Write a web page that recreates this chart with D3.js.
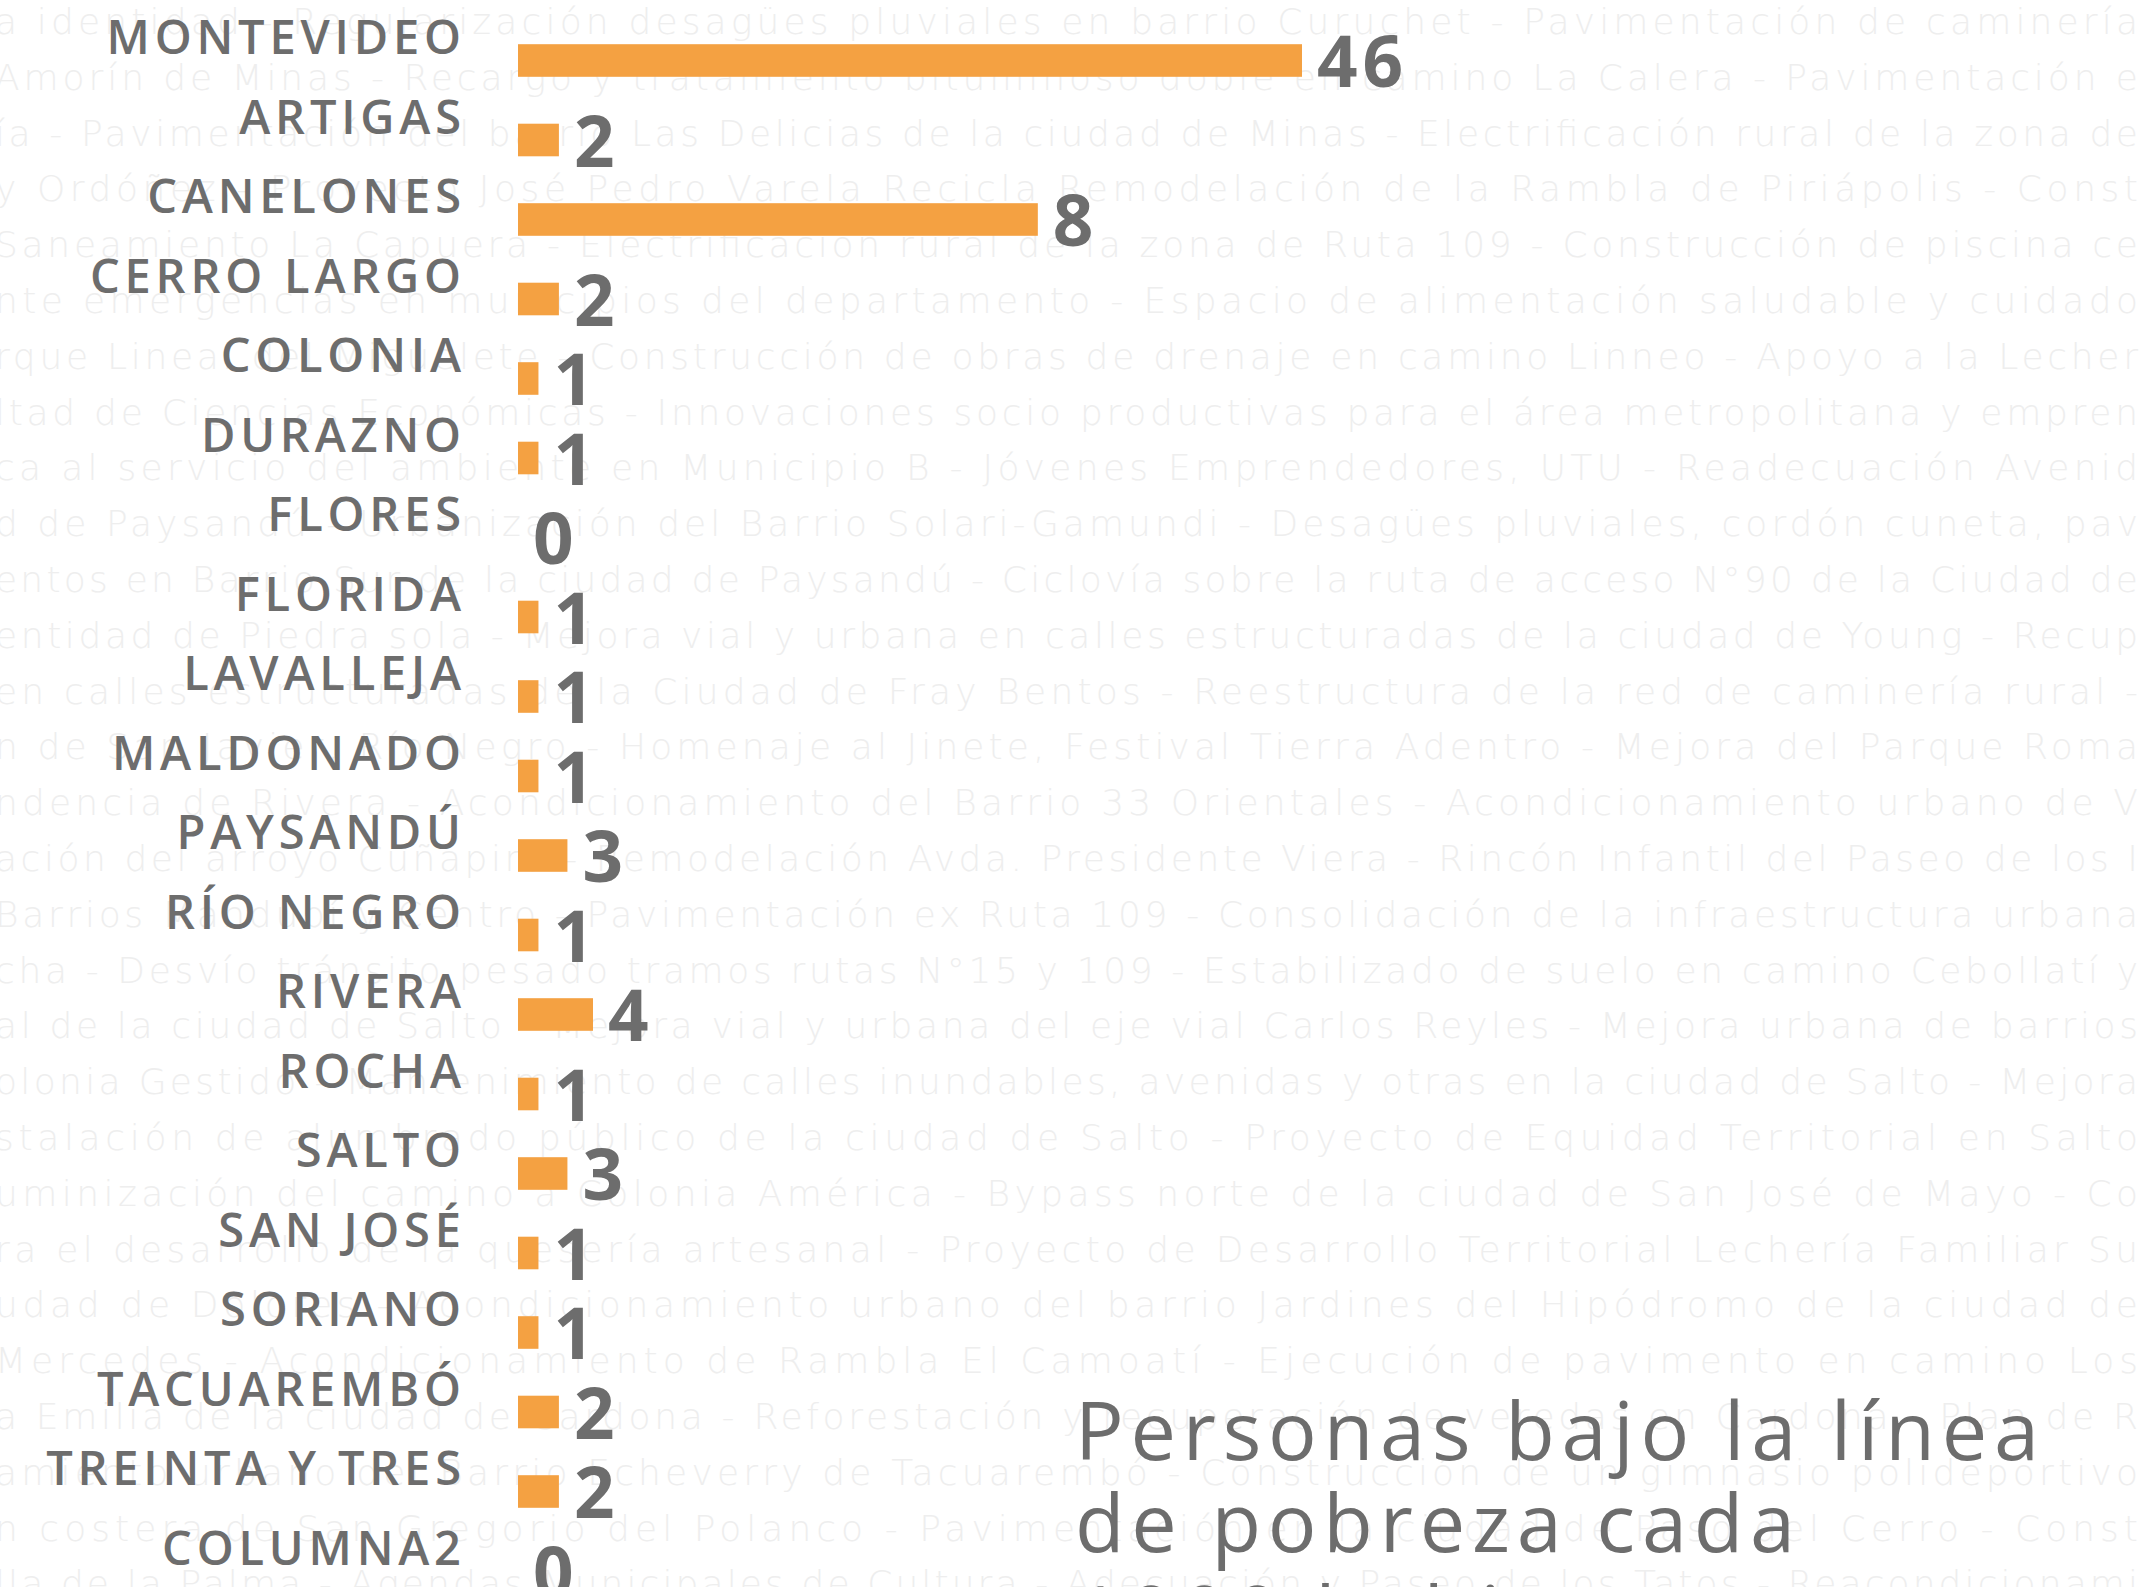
<!DOCTYPE html>
<html>
<head>
<meta charset="utf-8">
<script src="https://cdn.jsdelivr.net/npm/d3@7"></script>
<style>
  html, body { margin: 0; padding: 0; background: #ffffff; }
  svg { display: block; }
</style>
</head>
<body>
<div id="chart"></div>
<script>
// ---------------- DATA ----------------
const categories = ["MONTEVIDEO","ARTIGAS","CANELONES","CERRO LARGO","COLONIA","DURAZNO","FLORES","FLORIDA",
  "LAVALLEJA","MALDONADO","PAYSANDÚ","RÍO NEGRO","RIVERA","ROCHA","SALTO","SAN JOSÉ","SORIANO",
  "TACUAREMBÓ","TREINTA Y TRES","COLUMNA2"];
// labelled values
const values = [46,2,8,2,1,1,0,1,1,1,3,1,4,1,3,1,1,2,2,0];
// bar lengths as drawn in the infographic (in label units)
const barLengths = [46,2.4,30.5,2.4,1.2,1.2,0,1.2,1.2,1.2,2.9,1.2,4.4,1.2,2.9,1.2,1.2,2.4,2.4,0];
const xDomainMax = 46;

const titleLines = ["Personas bajo la línea", "de pobreza cada", "1000 habitantes"];

// faint background text (visible part of each justified line)
const backgroundLines = [
  "a identidad - Regularización desagües pluviales en barrio Curuchet - Pavimentación de caminería",
  "Amorín de Minas - Recargo y tratamiento bituminoso doble en camino La Calera - Pavimentación e",
  "ía - Pavimentación del barrio Las Delicias de la ciudad de Minas - Electrificación rural de la zona de",
  "y Ordóñez - Proyecto José Pedro Varela Recicla Remodelación de la Rambla de Piriápolis - Const",
  "Saneamiento La Capuera - Electrificación rural de la zona de Ruta 109 - Construcción de piscina ce",
  "nte emergencias en municipios del departamento - Espacio de alimentación saludable y cuidado",
  "rque Lineal del Miguelete - Construcción de obras de drenaje en camino Linneo - Apoyo a la Lecher",
  "ltad de Ciencias Económicas - Innovaciones socio productivas para el área metropolitana y empren",
  "ca al servicio del ambiente en Municipio B - Jóvenes Emprendedores, UTU - Readecuación Avenid",
  "d de Paysandú - Urbanización del Barrio Solari-Gamundi - Desagües pluviales, cordón cuneta, pav",
  "entos en Barrio Sur de la ciudad de Paysandú - Ciclovía sobre la ruta de acceso N°90 de la Ciudad de",
  "entidad de Piedra sola - Mejora vial y urbana en calles estructuradas de la ciudad de Young - Recup",
  "en calles estructuradas de la Ciudad de Fray Bentos - Reestructura de la red de caminería rural -",
  "n de San Javier, Río Negro - Homenaje al Jinete, Festival Tierra Adentro - Mejora del Parque Roma",
  "ndencia de Rivera - Acondicionamiento del Barrio 33 Orientales - Acondicionamiento urbano de V",
  "ación del arroyo Cuñapirú - Remodelación Avda. Presidente Viera - Rincón Infantil del Paseo de los I",
  "Barrios Mandubí y Centro - Pavimentación ex Ruta 109 - Consolidación de la infraestructura urbana",
  "cha - Desvío tránsito pesado tramos rutas N°15 y 109 - Estabilizado de suelo en camino Cebollatí y",
  "al de la ciudad de Salto - Mejora vial y urbana del eje vial Carlos Reyles - Mejora urbana de barrios",
  "olonia Gestido - Mantenimiento de calles inundables, avenidas y otras en la ciudad de Salto - Mejora",
  "stalación de alumbrado público de la ciudad de Salto - Proyecto de Equidad Territorial en Salto",
  "uminización del camino a Colonia América - Bypass norte de la ciudad de San José de Mayo - Co",
  "ra el desarrollo de la quesería artesanal - Proyecto de Desarrollo Territorial Lechería Familiar Su",
  "udad de Dolores - Acondicionamiento urbano del barrio Jardines del Hipódromo de la ciudad de",
  "Mercedes - Acondicionamiento de Rambla El Camoatí - Ejecución de pavimento en camino Los",
  "a Emilia de la ciudad de Cardona - Reforestación y recuperación de veredas en Cardona - Plan de R",
  "amiento urbano del Barrio Echeverry de Tacuarembó - Construcción de un gimnasio polideportivo",
  "n costera de San Gregorio del Polanco - Pavimentación en la ciudad de Paso del Cerro - Const",
  "lla de la Palma - Agendas Municipales de Cultura - Adecuación y Paseo de los Tatos - Reacondicionami"
];

// ---------------- LAYOUT ----------------
const W = 2153, H = 1587;
const GREY = "#6d6d6d";
const ORANGE = "#f4a142";

const svg = d3.select("#chart").append("svg")
  .attr("width", W).attr("height", H)
  .attr("viewBox", `0 0 ${W} ${H}`);

svg.append("rect").attr("width", W).attr("height", H).attr("fill", "#ffffff");

// background watermark text, each line spread (justified) across the page
const bgY = d3.scaleLinear().domain([0, 1]).range([34, 89.8]);
svg.append("g").selectAll("text")
  .data(backgroundLines)
  .join("text")
  .attr("x", -5)
  .attr("y", (d, i) => bgY(i))
  .attr("font-family", "'DejaVu Sans', sans-serif")
  .attr("font-weight", 200)
  .attr("font-size", 36)
  .attr("textLength", W - 10)
  .attr("lengthAdjust", "spacing")
  .attr("fill", "#eeeeee")
  .text(d => d);

// scales
const x = d3.scaleLinear().domain([0, xDomainMax]).range([518, 1302]);
const y = d3.scaleBand().domain(categories)
  .range([20.75, 1610.75]).paddingInner(0.59).paddingOuter(0.295);

const rows = categories.map((c, i) => ({ cat: c, value: values[i], len: barLengths[i] }));

// bars
svg.append("g").selectAll("rect")
  .data(rows.filter(d => d.len > 0))
  .join("rect")
  .attr("x", x(0))
  .attr("y", d => y(d.cat))
  .attr("width", d => x(d.len) - x(0))
  .attr("height", y.bandwidth())
  .attr("fill", ORANGE);

// category labels
const labelLS = 4.8;
svg.append("g").selectAll("text")
  .data(rows)
  .join("text")
  .attr("x", 461 + labelLS)
  .attr("y", d => y(d.cat) + 10)
  .attr("text-anchor", "end")
  .attr("font-family", "'Open Sans', sans-serif")
  .attr("font-weight", 600)
  .attr("font-size", 47)
  .attr("letter-spacing", labelLS)
  .attr("fill", GREY)
  .text(d => d.cat);

// value labels
svg.append("g").selectAll("text")
  .data(rows)
  .join("text")
  .attr("x", d => x(d.len) + 15)
  .attr("y", d => y(d.cat) + 43)
  .attr("font-family", "'Open Sans', sans-serif")
  .attr("font-weight", 700)
  .attr("font-size", 71)
  .attr("letter-spacing", 5)
  .attr("fill", GREY)
  .text(d => d.value);

// title block (bottom right)
svg.append("g").selectAll("text")
  .data(titleLines)
  .join("text")
  .attr("x", 1075)
  .attr("y", (d, i) => 1460 + i * 92)
  .attr("font-family", "'Open Sans', sans-serif")
  .attr("font-weight", 400)
  .attr("font-size", 81)
  .attr("letter-spacing", 6.8)
  .attr("fill", GREY)
  .text(d => d);
</script>
</body>
</html>
